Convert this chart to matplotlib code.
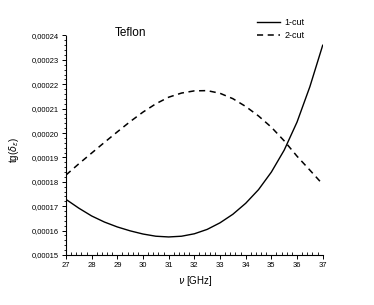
import matplotlib
matplotlib.use('Agg')
import matplotlib.pyplot as plt
from matplotlib.ticker import AutoMinorLocator, FuncFormatter, MultipleLocator

plt.rcParams['font.family'] = ['Liberation Sans', 'DejaVu Sans']

# frequency in GHz, loss tangent in 1e-5 units
freq = [27, 27.5, 28, 28.5, 29, 29.5, 30, 30.5, 31, 31.5, 32,
        32.5, 33, 33.5, 34, 34.5, 35, 35.5, 36, 36.5, 37]
cut1 = [17.28, 16.92, 16.60, 16.35, 16.15, 15.99, 15.86, 15.77, 15.74, 15.77, 15.87,
        16.05, 16.32, 16.67, 17.12, 17.68, 18.40, 19.30, 20.45, 21.90, 23.60]
cut2 = [18.28, 18.74, 19.18, 19.62, 20.05, 20.47, 20.86, 21.20, 21.47, 21.64, 21.73,
        21.74, 21.63, 21.41, 21.09, 20.70, 20.24, 19.68, 19.05, 18.48, 17.90]
labels = ['1-cut', '2-cut']

fig = plt.figure(figsize=(3.74, 3.05), dpi=100)
ax = fig.add_axes([66 / 374, 1 - 255 / 305, 256.7 / 374, 219.5 / 305])

ax.plot(freq, [v * 1e-5 for v in cut1], color='black', lw=1.0, label=labels[0])
ax.plot(freq, [v * 1e-5 for v in cut2], color='black', lw=1.1, ls=(0, (4, 3)), label=labels[1])

ax.set_xlim(27, 37)
ax.set_ylim(0.00015, 0.00024)
ax.xaxis.set_major_locator(MultipleLocator(1))
ax.xaxis.set_minor_locator(AutoMinorLocator(5))
ax.yaxis.set_major_locator(MultipleLocator(0.00001))
ax.yaxis.set_minor_locator(AutoMinorLocator(5))
ax.yaxis.set_major_formatter(FuncFormatter(lambda v, p: ('%.5f' % v).replace('.', ',')))

for s in ['top', 'right']:
    ax.spines[s].set_visible(False)
for s in ['left', 'bottom']:
    ax.spines[s].set_linewidth(0.8)

ax.tick_params(axis='x', which='major', direction='out', length=3, width=0.7, labelsize=5.5, pad=2)
ax.tick_params(axis='x', which='minor', direction='in', length=2, width=0.6)
ax.tick_params(axis='y', which='major', direction='out', length=3, width=0.7, labelsize=5.5, pad=2)
ax.tick_params(axis='y', which='minor', direction='out', length=1.5, width=0.6)

fig.text(131 / 374, 1 - 33 / 305, 'Teflon', fontsize=8.5, ha='center', va='center')
fig.text(195 / 374, 1 - 281 / 305, r'$\nu$ [GHz]', fontsize=7, ha='center', va='center')
fig.text(14 / 374, 1 - 150 / 305, r'tg($\delta_\varepsilon$)', fontsize=7, ha='center', va='center',
         rotation=90)

ax.legend(loc='upper left', bbox_to_anchor=(257 / 374, 1 - 18 / 305), bbox_transform=fig.transFigure,
          frameon=False, fontsize=6.5, handlelength=2.55, handletextpad=0.45, labelspacing=0.45,
          borderpad=0, borderaxespad=0)

fig.savefig('out.png', dpi=100)
